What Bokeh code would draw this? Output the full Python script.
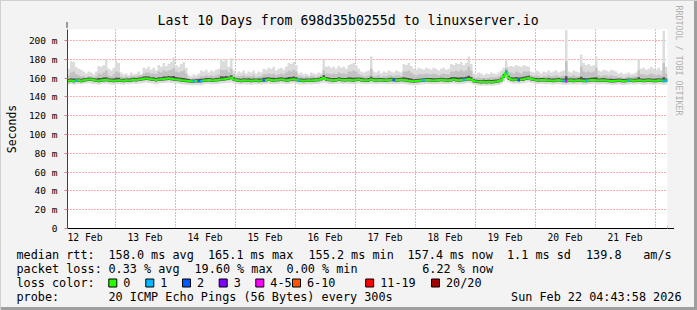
from datetime import datetime, timedelta
from bokeh.plotting import figure
from bokeh.layouts import column
from bokeh.models import (Range1d, FixedTicker, DatetimeTickFormatter, Label, Grid,
                          BoxAnnotation, Arrow, NormalHead, Title)
from bokeh.embed import file_html
from bokeh.resources import INLINE

MONO = "DejaVu Sans Mono"

# ------------------------------------------------------------------ data
title_text = "Last 10 Days from 698d35b0255d to linuxserver.io"
start_time = datetime(2026, 2, 12, 5, 0)   # hourly consolidated points
n_hours = 240

y_tick_values = [0, 20, 40, 60, 80, 100, 120, 140, 160, 180, 200]
y_tick_labels = ["0", "20 m", "40 m", "60 m", "80 m", "100 m", "120 m",
                 "140 m", "160 m", "180 m", "200 m"]

median_ms = (
    [157.2,157.5,157.0,157.4,157.6,157.3,157.8,158.2,158.6,158.4,157.9,157.5,157.3,157.6,158.0,158.3,157.6,157.4,157.1,157.5,157.8,157.4,157.2,157.6]
  + [157.5,157.8,158.2,157.9,158.4,158.9,159.3,159.6,159.2,158.8,158.5,158.1,158.4,158.7,159.0,159.4,159.8,159.3,158.9,158.6,158.2,157.8,157.5,157.3]
  + [157.0,156.6,156.5,156.8,157.0,156.9,157.4,157.8,158.0,157.6,157.5,157.9,158.2,158.5,158.8,159.2,159.5,160.3,158.6,157.9,157.5,157.3,157.6,157.4]
  + [157.5,157.2,157.4,157.6,157.3,157.5,157.8,158.1,158.4,158.0,157.7,157.9,158.3,158.6,158.2,157.8,158.1,158.4,158.7,158.3,157.6,157.4,157.2,157.5]
  + [157.6,157.4,157.7,157.9,158.2,159.0,160.2,158.9,158.3,158.0,157.8,158.1,158.4,158.2,157.9,158.1,158.3,158.0,157.8,158.2,158.5,158.1,157.8,157.6]
  + [157.8,158.4,158.0,157.7,157.9,158.1,157.8,157.6,157.9,158.2,157.9,157.7,158.0,158.3,158.0,157.6,157.2,156.9,156.6,156.8,157.1,157.4,157.6,157.9]
  + [158.0,157.8,157.5,157.7,158.0,158.2,157.9,157.6,157.8,158.1,158.4,158.0,157.7,158.0,158.3,158.6,159.0,158.4,156.8,156.3,156.0,155.8,156.1,155.9]
  + [156.2,155.9,156.1,156.4,156.8,158.0,162.0,166.0,160.0,158.6,158.2,158.5,158.1,158.4,158.8,159.5,160.0,159.0,158.4,158.0,157.8,158.1,157.9,157.6]
  + [157.8,157.5,157.3,157.6,157.9,157.5,157.2,157.0,157.4,157.7,157.3,157.5,157.8,157.4,157.1,157.3,157.6,157.9,158.1,157.7,157.4,157.6,157.8,157.5]
  + [157.3,157.0,156.8,157.1,157.4,157.2,156.9,157.1,157.4,157.6,157.3,157.5,157.8,157.4,157.2,157.5,157.7,157.4,157.1,157.3,157.6,157.4,157.2,157.4]
)

smoke_min = (
    [153.2,153.8,153.0,153.5,154.0,153.6,153.9,154.2,154.5,154.1,153.7,153.4,153.0,153.5,154.0,154.3,153.6,153.2,152.9,153.4,153.8,153.3,153.0,153.6]
  + [153.4,153.9,154.2,153.8,154.3,154.6,155.0,155.2,154.8,154.4,154.1,153.8,154.2,154.5,154.8,155.0,155.3,154.9,154.5,154.2,153.9,153.5,153.2,153.0]
  + [152.8,152.4,152.3,152.6,152.8,152.7,153.2,153.6,153.8,153.4,153.3,153.7,154.0,154.2,154.5,154.8,155.0,155.4,154.3,153.7,153.3,153.1,153.4,153.2]
  + [153.3,153.0,153.2,153.4,153.1,153.3,153.6,153.9,154.1,153.8,153.5,153.7,154.0,154.3,154.0,153.6,153.9,154.2,154.4,154.0,153.4,153.2,153.0,153.3]
  + [153.4,153.2,153.5,153.7,154.0,154.6,155.2,154.5,154.0,153.8,153.6,153.9,154.2,154.0,153.7,153.9,154.1,153.8,153.6,154.0,154.3,153.9,153.6,153.4]
  + [153.6,154.0,153.8,153.5,153.7,153.9,153.6,153.4,153.7,154.0,153.7,153.5,153.8,154.1,153.8,153.4,153.0,152.7,152.4,152.6,152.9,153.2,153.4,153.7]
  + [153.8,153.6,153.3,153.5,153.8,154.0,153.7,153.4,153.6,153.9,154.2,153.8,153.5,153.8,154.1,154.4,154.7,154.2,152.8,152.3,152.0,151.8,152.1,151.9]
  + [152.2,151.9,152.1,152.4,152.8,153.8,156.0,158.5,155.5,154.4,154.0,154.3,153.9,154.2,154.6,155.2,155.6,154.8,154.2,153.8,153.6,153.9,153.7,153.4]
  + [153.6,153.3,153.1,153.4,153.7,153.3,153.0,152.8,153.2,153.5,153.1,153.3,153.6,153.2,152.9,153.1,153.4,153.7,153.9,153.5,153.2,153.4,153.6,153.3]
  + [153.1,152.8,152.6,152.9,153.2,153.0,152.7,152.9,153.2,153.4,153.1,153.3,153.6,153.2,153.0,153.3,153.5,153.2,152.9,153.1,153.4,153.2,153.0,153.2]
)

smoke_p25 = (
    [155.6,155.9,155.4,155.8,156.0,155.7,156.2,156.6,157.0,156.8,156.3,155.9,155.7,156.0,156.4,156.7,156.0,155.8,155.5,155.9,156.2,155.8,155.6,156.0]
  + [155.9,156.2,156.6,156.3,156.8,157.3,157.7,158.0,157.6,157.2,156.9,156.5,156.8,157.1,157.4,157.8,158.2,157.7,157.3,157.0,156.6,156.2,155.9,155.7]
  + [155.4,155.0,154.9,155.2,155.4,155.3,155.8,156.2,156.4,156.0,155.9,156.3,156.6,156.9,157.2,157.6,157.9,158.7,157.0,156.3,155.9,155.7,156.0,155.8]
  + [155.9,155.6,155.8,156.0,155.7,155.9,156.2,156.5,156.8,156.4,156.1,156.3,156.7,157.0,156.6,156.2,156.5,156.8,157.1,156.7,156.0,155.8,155.6,155.9]
  + [156.0,155.8,156.1,156.3,156.6,157.4,158.6,157.3,156.7,156.4,156.2,156.5,156.8,156.6,156.3,156.5,156.7,156.4,156.2,156.6,156.9,156.5,156.2,156.0]
  + [156.2,156.8,156.4,156.1,156.3,156.5,156.2,156.0,156.3,156.6,156.3,156.1,156.4,156.7,156.4,156.0,155.6,155.3,155.0,155.2,155.5,155.8,156.0,156.3]
  + [156.4,156.2,155.9,156.1,156.4,156.6,156.3,156.0,156.2,156.5,156.8,156.4,156.1,156.4,156.7,157.0,157.4,156.8,155.2,154.7,154.4,154.2,154.5,154.3]
  + [154.6,154.3,154.5,154.8,155.2,156.4,160.0,163.8,158.2,157.0,156.6,156.9,156.5,156.8,157.2,157.9,158.4,157.4,156.8,156.4,156.2,156.5,156.3,156.0]
  + [156.2,155.9,155.7,156.0,156.3,155.9,155.6,155.4,155.8,156.1,155.7,155.9,156.2,155.8,155.5,155.7,156.0,156.3,156.5,156.1,155.8,156.0,156.2,155.9]
  + [155.7,155.4,155.2,155.5,155.8,155.6,155.3,155.5,155.8,156.0,155.7,155.9,156.2,155.8,155.6,155.9,156.1,155.8,155.5,155.7,156.0,155.8,155.6,155.8]
)

smoke_p75 = (
    [159.4,159.9,159.6,159.6,159.6,159.3,159.8,160.1,160.6,160.4,159.9,159.6,160.2,160.0,160.6,161.0,159.8,159.5,159.6,160.3,160.4,159.4,159.2,159.6]
  + [159.5,159.9,160.3,160.0,160.6,161.0,161.6,162.0,161.6,161.0,160.8,160.2,160.9,161.0,161.6,161.8,162.3,162.0,162.2,161.2,160.6,160.4,160.2,159.6]
  + [159.0,158.6,158.6,158.8,159.1,159.2,159.6,160.1,160.1,159.8,159.6,160.1,160.5,161.9,161.6,162.1,161.8,163.0,160.8,159.9,159.6,159.4,159.8,159.5]
  + [159.8,159.4,159.7,159.7,159.5,159.7,160.4,160.6,160.9,160.5,160.4,160.2,160.6,161.0,160.5,160.4,161.2,161.3,161.7,161.0,159.6,159.5,159.2,159.6]
  + [159.6,159.6,159.8,159.9,160.3,161.3,163.0,161.2,160.6,160.2,160.1,160.2,160.8,160.4,160.2,160.2,160.8,160.6,160.5,160.7,160.6,160.3,159.9,159.7]
  + [160.0,161.4,160.1,159.8,160.1,160.1,159.9,159.7,160.0,160.3,160.0,159.9,160.1,160.4,160.9,160.5,160.2,159.5,158.9,159.0,159.4,159.6,159.8,160.2]
  + [160.2,160.0,159.8,159.9,160.1,160.4,160.2,159.8,160.0,160.9,161.2,161.0,160.6,161.0,161.0,161.5,162.4,161.2,158.8,158.3,158.1,157.8,158.2,158.0]
  + [158.3,158.0,158.2,158.5,158.9,160.3,164.2,168.0,162.6,161.0,160.6,161.1,160.6,160.8,161.4,162.0,162.4,161.0,160.4,160.1,159.9,160.1,160.0,159.7]
  + [160.0,159.6,159.5,159.9,160.0,159.6,159.5,162.0,159.5,159.8,159.5,159.7,160.0,161.5,160.0,159.9,160.2,160.3,160.6,161.0,159.6,159.8,160.0,159.7]
  + [159.4,159.2,159.0,159.2,159.5,159.3,159.0,159.2,159.5,159.7,159.4,159.6,160.8,159.6,159.4,159.7,159.9,159.7,159.3,159.5,159.8,159.5,161.0,159.6]
)

smoke_p90 = (
    [163,166,167,164,163,162,162,161,162,162,161,162,165,164,166,168,163,162,164,167,166,162,161,162]
  + [161,162,162,162,163,163,165,166,166,165,165,164,167,166,168,167,168,169,171,167,166,167,168,165]
  + [160,159,160,160,161,162,162,163,162,163,162,163,164,169,168,169,166,170,164,162,162,162,163,162]
  + [162,162,163,161,162,162,164,164,165,164,165,163,164,165,164,166,168,167,169,167,162,162,161,162]
  + [161,162,162,161,162,163,168,165,165,164,165,164,166,165,165,164,167,167,168,167,164,163,162,162]
  + [163,170,162,162,163,161,162,162,163,163,162,163,163,162,167,167,168,166,164,163,164,164,164,165]
  + [164,164,165,164,163,164,165,164,164,167,167,168,167,169,167,168,172,168,161,160,161,160,160,160]
  + [160,161,161,161,162,163,166,171,166,166,165,167,166,165,167,167,167,163,162,163,162,161,162,162]
  + [163,162,162,163,162,162,163,178,162,162,163,162,162,172,167,166,167,166,167,171,163,162,163,163]
  + [162,163,162,162,161,161,160,161,162,161,162,162,168,164,164,163,164,165,164,163,164,163,176,165]
)

smoke_max = (
    [170,178,177,172,170,169,167,165,167,166,164,167,173,172,174,180,170,168,171,178,176,166,164,165]
  + [163,166,164,165,167,164,171,170,172,169,171,168,174,172,176,173,175,177,182,174,172,175,177,171]
  + [163,162,164,163,165,168,167,169,166,168,167,169,170,180,178,180,172,181,168,165,167,166,168,165]
  + [167,166,168,165,167,166,170,169,171,170,172,168,170,171,169,172,176,175,177,174,165,166,164,165]
  + [163,166,165,164,166,165,180,172,173,171,172,170,173,171,172,170,174,175,176,174,170,167,166,167]
  + [168,183,167,166,168,165,167,166,168,167,166,168,167,166,175,174,176,173,170,169,171,170,169,171]
  + [170,169,171,170,168,170,171,169,170,175,174,176,175,177,174,176,183,175,165,164,166,165,163,165]
  + [164,166,165,164,166,168,171,179,172,173,172,174,173,172,174,173,172,167,166,168,167,165,167,166]
  + [168,166,167,168,166,167,168,211,167,166,168,167,166,185,176,174,175,173,174,183,168,167,169,168]
  + [167,169,168,167,165,166,164,165,166,164,165,166,180,170,171,169,170,172,170,169,171,168,210,172]
)

# hours (index from start) in which pings were lost, and how many of 20
loss_hour  = [3, 50, 52, 53, 78, 92, 130, 142, 158, 175, 180, 198, 199, 207, 224, 238, 239]
loss_count = [1, 1,  2,  1,  2,  1,  2,   1,   1,   1,   2,   1,   4,   1,   1,   1,   1]

loss_names  = ["0", "1", "2", "3", "4-5", "6-10", "11-19", "20/20"]
loss_colors = ["#26ff00", "#00b8ff", "#0059ff", "#7e00ff", "#ff00ff", "#ff5500", "#ff0000", "#a10000"]

median_stats = ["median rtt:", "158.0 ms avg", "165.1 ms max", "155.2 ms min",
                "157.4 ms now", "1.1 ms sd", "139.8", "am/s"]
loss_stats = ["packet loss:", "0.33 % avg", "19.60 % max", "0.00 % min", "6.22 % now"]
probe_text = ["probe:", "20 ICMP Echo Pings (56 Bytes) every 300s", "Sun Feb 22 04:43:58 2026"]
y_axis_title = "Seconds"
watermark = "RRDTOOL / TOBI OETIKER"

for arr in (median_ms, smoke_min, smoke_p25, smoke_p75, smoke_p90, smoke_max):
    assert len(arr) == n_hours, len(arr)

# ------------------------------------------------------------------ helpers
EPOCH = datetime(1970, 1, 1)
def ms(dt):
    return (dt - EPOCH).total_seconds() * 1000.0

t0 = ms(start_time)
t1 = ms(start_time + timedelta(hours=n_hours))
hour_x = [ms(start_time + timedelta(hours=i)) for i in range(n_hours + 1)]

Y_TOP = 211.7
W, H = 697, 310
H1 = 246                               # main chart height; legend strip below
FL, FR, FT, FB = 67, 667, 29, 228      # frame edges in pixels

def X(px):
    return t0 + (px - FL) / (FR - FL) * (t1 - t0)

def Y(py):
    return (FB - py) / (FB - FT) * Y_TOP

def ext(a):
    return list(a) + [a[-1]]

BG = "#f3f3f3"
LEGEND_FONT = "11.8px"

# ------------------------------------------------------------------ main figure
p = figure(width=W, height=H1, x_axis_type="datetime",
           x_range=Range1d(t0, t1), y_range=Range1d(0, Y_TOP),
           output_backend="svg", toolbar_location=None,
           min_border_left=FL, min_border_right=W - FR,
           min_border_top=FT, min_border_bottom=H1 - FB,
           background_fill_color="white", border_fill_color=None,
           styles={"background-color": BG,
                   "box-shadow": "inset 1px 1px 0 #cfcfcf, inset -3px 0 0 #9e9e9e"})
p.frame_align = False
p.outline_line_color = None

p.title.text = title_text
p.title.align = "left"
p.title.offset = 157 - FL
p.title.text_font = MONO
p.title.text_font_size = "13.2px"
p.title.text_font_style = "normal"
p.title.text_color = "black"
p.title.standoff = 3

p.add_layout(Title(text=watermark, align="left", offset=-24, standoff=12,
                   text_font=MONO, text_font_size="8.3px", text_font_style="normal",
                   text_color="#b0b0b0"), "right")

# grids
midnights, six_hours = [], []
d = datetime(2026, 2, 12, 0, 0)
while d <= start_time + timedelta(hours=n_hours):
    if d >= start_time:
        (midnights if d.hour == 0 else six_hours).append(ms(d))
    d += timedelta(hours=6)
noons = [ms(datetime(2026, 2, 12 + i, 12, 0)) for i in range(10)]

GRID_MINOR = "#cfcfcf"
GRID_MAJOR = "#ff9090"
DASH = "1 2"

p.add_layout(Grid(dimension=0, ticker=FixedTicker(ticks=six_hours),
                  grid_line_color=GRID_MINOR, grid_line_dash=DASH))
p.add_layout(Grid(dimension=1, ticker=FixedTicker(ticks=[v + 10 for v in y_tick_values]),
                  grid_line_color=GRID_MINOR, grid_line_dash=DASH))
p.xgrid.ticker = FixedTicker(ticks=midnights)
p.xgrid.grid_line_color = GRID_MAJOR
p.xgrid.grid_line_dash = DASH
p.ygrid.ticker = FixedTicker(ticks=y_tick_values[1:])
p.ygrid.grid_line_color = GRID_MAJOR
p.ygrid.grid_line_dash = DASH

# axes
p.xaxis.ticker = FixedTicker(ticks=noons)
p.xaxis.formatter = DatetimeTickFormatter(days="%d %b", hours="%d %b", months="%d %b",
                                          hourmin="%d %b", minutes="%d %b")
p.xaxis.major_tick_line_color = None
p.xaxis.minor_tick_line_color = None
p.xaxis.major_tick_out = 0
p.xaxis.major_tick_in = 0
p.xaxis.minor_tick_out = 0
p.xaxis.minor_tick_in = 0
p.xaxis.major_label_standoff = 3
p.xaxis.major_label_text_font = MONO
p.xaxis.major_label_text_font_size = "9.7px"
p.xaxis.major_label_text_color = "black"
p.xaxis.axis_line_color = "black"

p.yaxis.ticker = FixedTicker(ticks=y_tick_values)
p.yaxis.major_label_overrides = dict(zip(y_tick_values, y_tick_labels))
p.yaxis.major_tick_in = 0
p.yaxis.major_tick_out = 3
p.yaxis.minor_tick_out = 0
p.yaxis.minor_tick_in = 0
p.yaxis.major_tick_line_color = "#d08080"
p.yaxis.minor_tick_line_color = None
p.yaxis.major_label_standoff = 7
p.yaxis.major_label_text_font = MONO
p.yaxis.major_label_text_font_size = "9.5px"
p.yaxis.major_label_text_color = "black"
p.yaxis.axis_line_color = "#404040"
p.yaxis.axis_label = y_axis_title
p.yaxis.axis_label_text_font = MONO
p.yaxis.axis_label_text_font_size = "11.5px"
p.yaxis.axis_label_text_font_style = "normal"
p.yaxis.axis_label_text_color = "black"
p.yaxis.axis_label_standoff = 7

# smoke layers
p.varea_step(x=hour_x, y1=ext(smoke_min), y2=ext(smoke_max), step_mode="after",
             fill_color="#dcdcdc")
p.varea_step(x=hour_x, y1=ext(smoke_p25), y2=ext(smoke_p90), step_mode="after",
             fill_color="#c2c2c2")
p.varea_step(x=hour_x, y1=ext(smoke_p25), y2=ext(smoke_p75), step_mode="after",
             fill_color="#505050")

# median line (green = no loss), coloured where pings were lost
p.step(x=hour_x, y=ext(median_ms), mode="after", line_color=loss_colors[0], line_width=2)

def loss_index(c):
    if c <= 3:
        return c
    if c <= 5:
        return 4
    if c <= 10:
        return 5
    if c <= 19:
        return 6
    return 7

p.segment(x0=[hour_x[h] for h in loss_hour], x1=[hour_x[h + 1] for h in loss_hour],
          y0=[median_ms[h] for h in loss_hour], y1=[median_ms[h] for h in loss_hour],
          line_color=[loss_colors[loss_index(c)] for c in loss_count], line_width=2)

# axis arrows (annotations drawn beyond the frame)
ARROW = "#801818"
p.add_layout(Arrow(end=NormalHead(size=6, fill_color=ARROW, line_color=ARROW),
                   x_start=X(FL - 0.5), y_start=Y(FT), x_end=X(FL - 0.5), y_end=Y(21.5),
                   line_color="#404040"))
p.add_layout(Arrow(end=NormalHead(size=6, fill_color=ARROW, line_color=ARROW),
                   x_start=X(FR), y_start=Y(FB), x_end=X(673.5), y_end=Y(FB),
                   line_color="black"))

# ------------------------------------------------------------------ legend strip
q = figure(width=W, height=H - H1, x_range=Range1d(0, W), y_range=Range1d(H, H1),
           x_axis_type=None, y_axis_type=None, output_backend="svg", toolbar_location=None,
           min_border=0, background_fill_color=None, border_fill_color=None,
           styles={"background-color": BG,
                   "box-shadow": "inset 1px 0 0 #cfcfcf, inset -3px -3px 0 #9e9e9e"})
q.frame_align = False
q.outline_line_color = None
q.xgrid.visible = False
q.ygrid.visible = False

def lab(px, py, text, align="left"):
    q.add_layout(Label(x=px, y=py, text=text, text_font=MONO, text_font_size=LEGEND_FONT,
                       text_align=align, text_baseline="middle", text_color="black"))

row1_x = [16, 108, 207.5, 308, 407, 506.5, 585.5, 642.7]
for px, t in zip(row1_x, median_stats):
    lab(px, 254, t)
row2_x = [16, 108, 194, 286, 421.7]
for px, t in zip(row2_x, loss_stats):
    lab(px, 268, t)
lab(16, 282, "loss color:")
sw_x = [112.3, 149.3, 186.0, 222.7, 259.3, 296.0, 369.2, 435.0]
for cx, name, col in zip(sw_x, loss_names, loss_colors):
    q.add_layout(BoxAnnotation(left=cx - 4, right=cx + 4, top=278.5, bottom=286.5,
                               fill_color=col, fill_alpha=1.0, line_color="black",
                               line_width=1, line_alpha=1.0))
    lab(cx + 10.5, 282, name)
lab(16, 296, probe_text[0])
lab(108, 296, probe_text[1])
lab(681, 296, probe_text[2], align="right")

layout = column(p, q, spacing=0)
open("out.html", "w").write(file_html(layout, INLINE))
